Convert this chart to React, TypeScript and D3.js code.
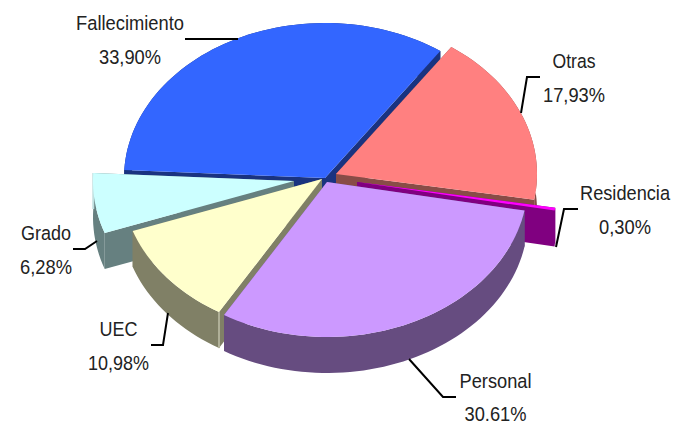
import React from "react";
import * as d3 from "d3";

const categories = ["Otras", "Residencia", "Personal", "UEC", "Grado", "Fallecimiento"];
const values = [17.93, 0.3, 30.61, 10.98, 6.28, 33.9];
const valueLabels = ["17,93%", "0,30%", "30.61%", "10,98%", "6,28%", "33,90%"];
const topColors = ["#FF8080", "#FF00FF", "#CC99FF", "#FFFFCC", "#CCFFFF", "#3366FF"];
const sideColors = ["#884C47", "#800080", "#664C80", "#808066", "#668080", "#1A3380"];
const rimColors = ["#884C47", "#800080", "#664C80", "#B0B098", "#C0E0E0", "#1A3380"];
// exploded centre of each slice on the page
const centresX = [336, 357, 327, 322, 294, 325];
const centresY = [174, 182, 182, 179, 181, 178];
const paintOrder = [5, 0, 4, 1, 3, 2];
const labelX = [574, 625, 495.5, 118.5, 46, 130];
const labelY1 = [68, 200, 388, 335.5, 239.5, 30];
const labelY2 = [102, 234, 421, 370, 274, 64];
const labelW = [43, 90, 72, 38, 50, 108];
const labelW2 = [62, 52, 62, 61, 52, 62];
const leaders: [number, number][][] = [
  [[521, 113], [527, 77], [540, 77]],
  [[556, 247], [564, 209], [578, 209]],
  [[409, 359], [443, 397], [456, 397]],
  [[168, 313], [163, 345], [151, 345]],
  [[97, 241], [85, 249], [73, 249]],
  [[238, 39], [212, 39], [185, 39]],
];

const RX = 201;
const RY = 155;
const DEPTH = 36;
const START = (35 * Math.PI) / 180;

const pie = d3.pie<number>().sort(null).startAngle(START).endAngle(START + 2 * Math.PI);
const arcs = pie(values);
const xUnit = d3.scaleLinear().domain([-1, 1]).range([-RX, RX]);
const yUnit = d3.scaleLinear().domain([-1, 1]).range([RY, -RY]);
const line = d3.line<[number, number]>();

function arcPoints(i: number, dy: number): [number, number][] {
  const { startAngle: a, endAngle: b } = arcs[i];
  const n = Math.max(2, Math.ceil(((b - a) * 180) / Math.PI / 2));
  return d3.range(n + 1).map((k) => {
    const t = a + ((b - a) * k) / n;
    return [centresX[i] + xUnit(Math.sin(t)), centresY[i] + yUnit(Math.cos(t)) + dy] as [number, number];
  });
}

function Slice({ i }: { i: number }) {
  const top = arcPoints(i, 0);
  const bottom = arcPoints(i, DEPTH);
  const c: [number, number] = [centresX[i], centresY[i]];
  const cb: [number, number] = [c[0], c[1] + DEPTH];
  const first = top[0];
  const last = top[top.length - 1];
  const firstB = bottom[0];
  const lastB = bottom[bottom.length - 1];
  const side = sideColors[i];
  const rimTop = i === 3 ? first : last;
  const rimBottom = i === 3 ? firstB : lastB;
  return (
    <g>
      <path d={line([c, first, firstB, cb])! + "Z"} fill={side} />
      <path d={line([c, last, lastB, cb])! + "Z"} fill={side} />
      <path d={line([...top, ...[...bottom].reverse()])! + "Z"} fill={side} />
      {rimColors[i] !== side && (
        <line x1={rimTop[0]} y1={rimTop[1]} x2={rimBottom[0]} y2={rimBottom[1]} stroke={rimColors[i]} strokeWidth={2} />
      )}
      <path d={line([c, ...top])! + "Z"} fill={topColors[i]} />
    </g>
  );
}

export default function App() {
  return (
    <svg
      width={673}
      height={422}
      viewBox="0 0 673 422"
      style={{ position: "fixed", left: 0, top: 0, background: "#fff" }}
      fontFamily="'Liberation Sans', Arial, sans-serif"
      fontSize={20.5}
      fill="#222"
    >
      {paintOrder.map((i) => (
        <Slice key={i} i={i} />
      ))}
      {leaders.map((pts, i) => (
        <path key={i} d={line(pts)!} fill="none" stroke="#000" strokeWidth={2} />
      ))}
      {categories.map((name, i) => (
        <g key={name} textAnchor="middle">
          <text x={labelX[i]} y={labelY1[i]} textLength={labelW[i]} lengthAdjust="spacingAndGlyphs">
            {name}
          </text>
          <text x={labelX[i]} y={labelY2[i]} textLength={labelW2[i]} lengthAdjust="spacingAndGlyphs">
            {valueLabels[i]}
          </text>
        </g>
      ))}
    </svg>
  );
}
